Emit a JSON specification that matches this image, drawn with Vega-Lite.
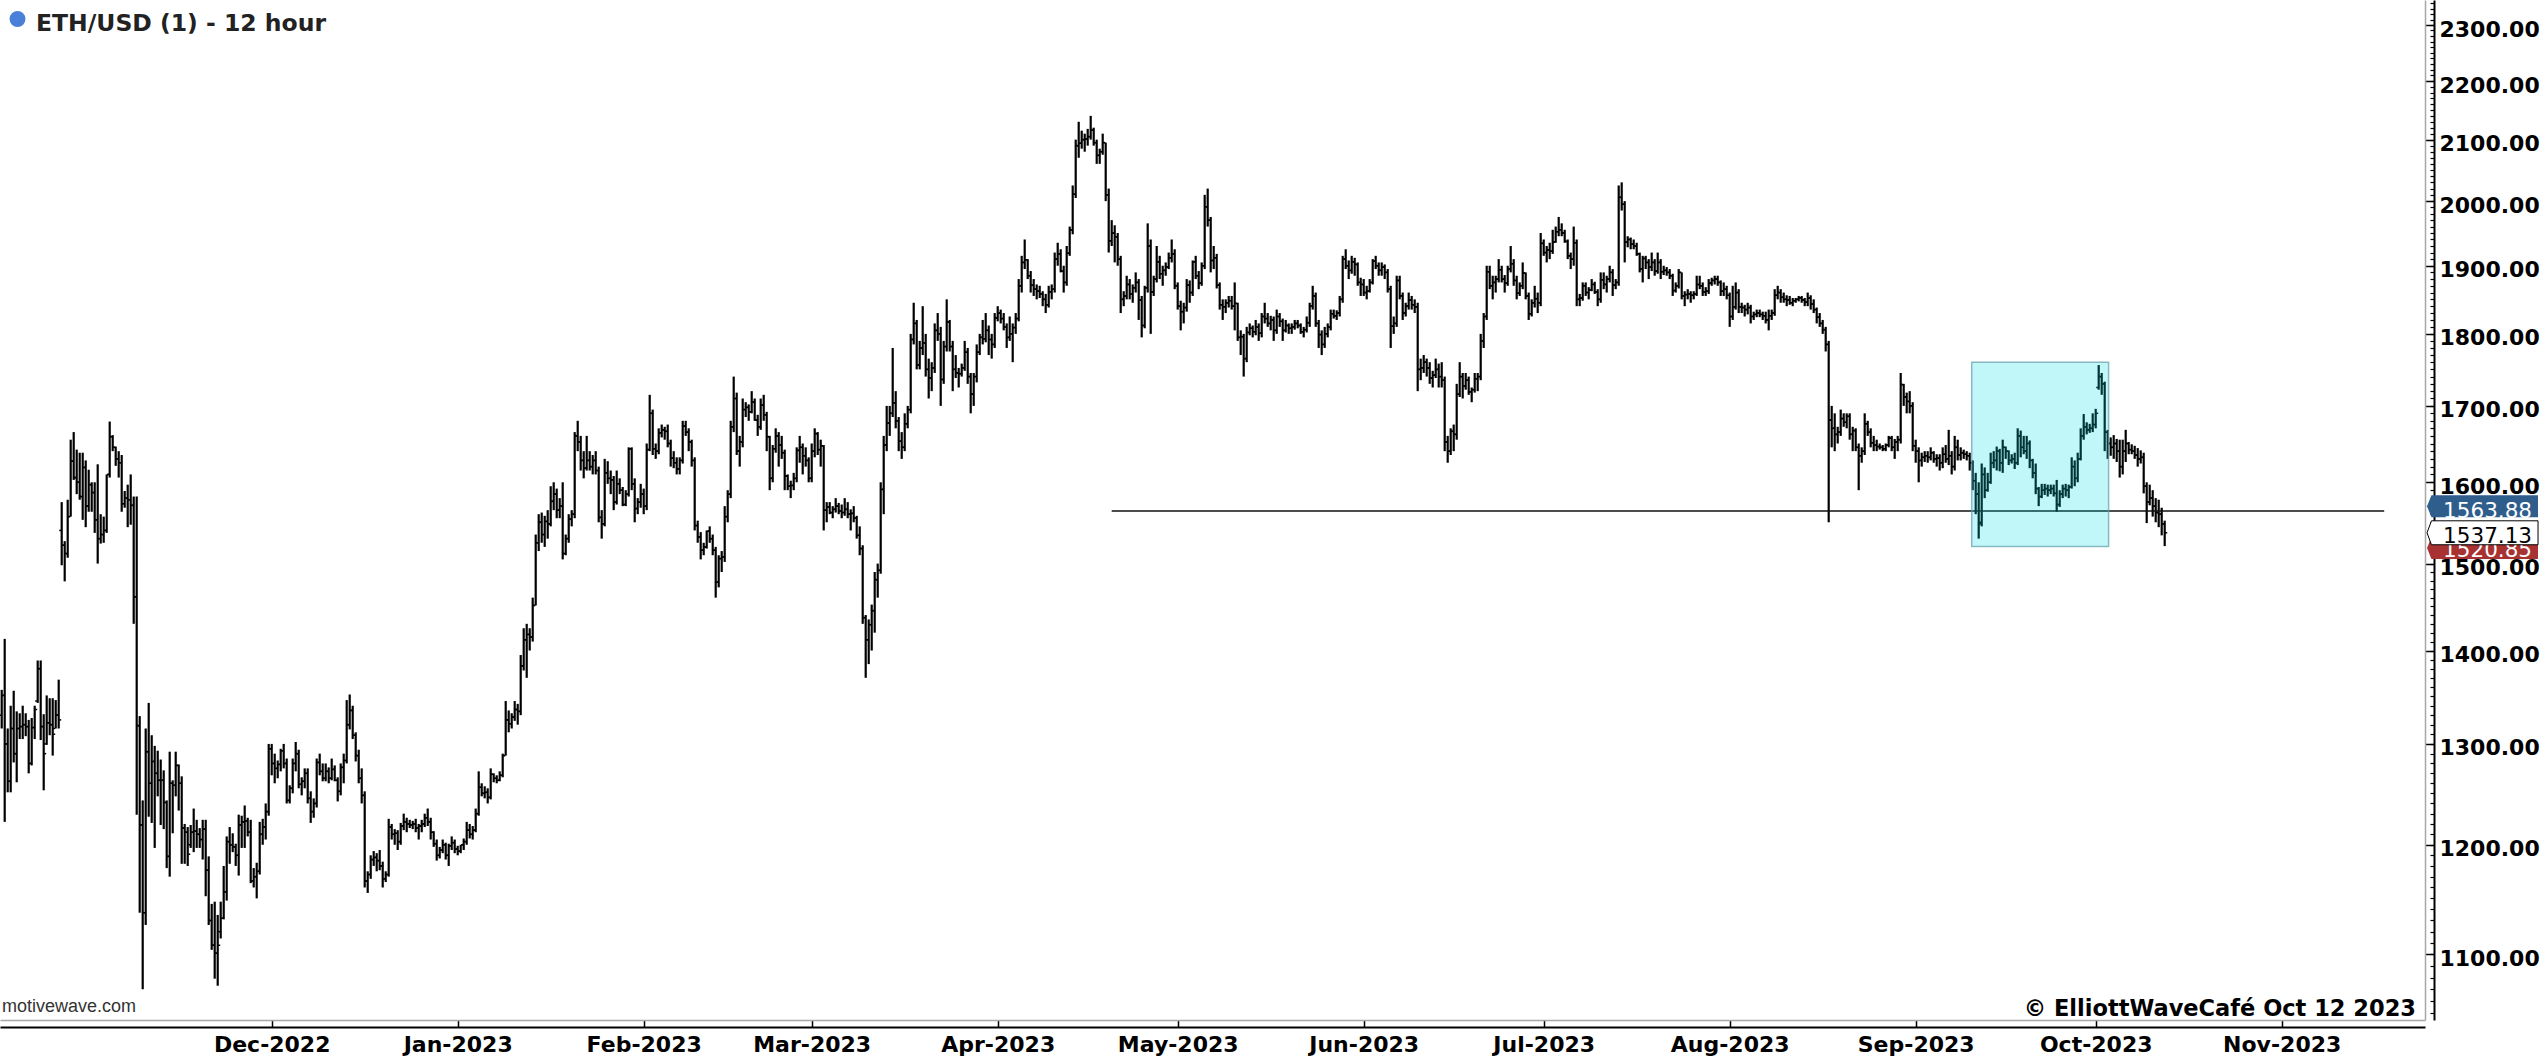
{
"$schema":"https://vega.github.io/schema/vega-lite/v6.json",
"width":2425,"height":1020,
"autosize":{"type":"none"},
"padding":{"left":0,"top":0,"right":123,"bottom":39},
"background":"#ffffff",
"config":{"view":{"stroke":null},"font":"DejaVu Sans"},
"datasets":{"bars":[
{"t":"2022-10-17T00:00","o":1330,"h":1357,"l":1316,"c":1351},
{"t":"2022-10-17T12:00","o":1351,"h":1413,"l":1222,"c":1300},
{"t":"2022-10-18T00:00","o":1300,"h":1316,"l":1251,"c":1262},
{"t":"2022-10-18T12:00","o":1262,"h":1340,"l":1251,"c":1316},
{"t":"2022-10-19T00:00","o":1316,"h":1356,"l":1281,"c":1290},
{"t":"2022-10-19T12:00","o":1290,"h":1334,"l":1261,"c":1316},
{"t":"2022-10-20T00:00","o":1316,"h":1332,"l":1305,"c":1318},
{"t":"2022-10-20T12:00","o":1318,"h":1340,"l":1305,"c":1320},
{"t":"2022-10-21T00:00","o":1320,"h":1332,"l":1308,"c":1318},
{"t":"2022-10-21T12:00","o":1318,"h":1325,"l":1270,"c":1280},
{"t":"2022-10-22T00:00","o":1280,"h":1327,"l":1278,"c":1317},
{"t":"2022-10-22T12:00","o":1317,"h":1340,"l":1305,"c":1336},
{"t":"2022-10-23T00:00","o":1345,"h":1389,"l":1343,"c":1380},
{"t":"2022-10-23T12:00","o":1380,"h":1389,"l":1304,"c":1318},
{"t":"2022-10-24T00:00","o":1318,"h":1331,"l":1253,"c":1290},
{"t":"2022-10-24T12:00","o":1300,"h":1351,"l":1299,"c":1322},
{"t":"2022-10-25T00:00","o":1322,"h":1348,"l":1309,"c":1320},
{"t":"2022-10-25T12:00","o":1320,"h":1348,"l":1288,"c":1310},
{"t":"2022-10-26T00:00","o":1316,"h":1346,"l":1316,"c":1330},
{"t":"2022-10-26T12:00","o":1330,"h":1368,"l":1316,"c":1325},
{"t":"2022-10-27T00:00","o":1540,"h":1575,"l":1498,"c":1522},
{"t":"2022-10-27T12:00","o":1522,"h":1527,"l":1479,"c":1512},
{"t":"2022-10-28T00:00","o":1512,"h":1578,"l":1507,"c":1557},
{"t":"2022-10-28T12:00","o":1557,"h":1655,"l":1557,"c":1627},
{"t":"2022-10-29T00:00","o":1627,"h":1665,"l":1603,"c":1606},
{"t":"2022-10-29T12:00","o":1606,"h":1642,"l":1585,"c":1600},
{"t":"2022-10-30T00:00","o":1600,"h":1638,"l":1578,"c":1582},
{"t":"2022-10-30T12:00","o":1582,"h":1638,"l":1553,"c":1619},
{"t":"2022-10-31T00:00","o":1619,"h":1628,"l":1544,"c":1570},
{"t":"2022-10-31T12:00","o":1570,"h":1616,"l":1563,"c":1597},
{"t":"2022-11-01T00:00","o":1597,"h":1600,"l":1563,"c":1587},
{"t":"2022-11-01T12:00","o":1587,"h":1600,"l":1537,"c":1553},
{"t":"2022-11-02T00:00","o":1553,"h":1623,"l":1500,"c":1530},
{"t":"2022-11-02T12:00","o":1530,"h":1560,"l":1524,"c":1535},
{"t":"2022-11-03T00:00","o":1535,"h":1557,"l":1525,"c":1540},
{"t":"2022-11-03T12:00","o":1540,"h":1610,"l":1537,"c":1610},
{"t":"2022-11-04T00:00","o":1610,"h":1679,"l":1606,"c":1659},
{"t":"2022-11-04T12:00","o":1659,"h":1661,"l":1640,"c":1645},
{"t":"2022-11-05T00:00","o":1645,"h":1646,"l":1621,"c":1630},
{"t":"2022-11-05T12:00","o":1630,"h":1640,"l":1606,"c":1625},
{"t":"2022-11-06T00:00","o":1625,"h":1635,"l":1563,"c":1573},
{"t":"2022-11-06T12:00","o":1573,"h":1589,"l":1568,"c":1580},
{"t":"2022-11-07T00:00","o":1580,"h":1597,"l":1544,"c":1578},
{"t":"2022-11-07T12:00","o":1578,"h":1610,"l":1547,"c":1571},
{"t":"2022-11-08T00:00","o":1571,"h":1582,"l":1430,"c":1461},
{"t":"2022-11-08T12:00","o":1461,"h":1582,"l":1229,"c":1319},
{"t":"2022-11-09T00:00","o":1319,"h":1329,"l":1137,"c":1219},
{"t":"2022-11-09T12:00","o":1219,"h":1243,"l":1070,"c":1137},
{"t":"2022-11-10T00:00","o":1137,"h":1316,"l":1126,"c":1292},
{"t":"2022-11-10T12:00","o":1292,"h":1343,"l":1227,"c":1260},
{"t":"2022-11-11T00:00","o":1260,"h":1309,"l":1221,"c":1282},
{"t":"2022-11-11T12:00","o":1282,"h":1298,"l":1197,"c":1270},
{"t":"2022-11-12T00:00","o":1270,"h":1293,"l":1247,"c":1263},
{"t":"2022-11-12T12:00","o":1263,"h":1284,"l":1219,"c":1263},
{"t":"2022-11-13T00:00","o":1263,"h":1273,"l":1215,"c":1241},
{"t":"2022-11-13T12:00","o":1241,"h":1243,"l":1178,"c":1189},
{"t":"2022-11-14T00:00","o":1189,"h":1292,"l":1170,"c":1260},
{"t":"2022-11-14T12:00","o":1260,"h":1263,"l":1211,"c":1258},
{"t":"2022-11-15T00:00","o":1258,"h":1292,"l":1247,"c":1278},
{"t":"2022-11-15T12:00","o":1278,"h":1279,"l":1233,"c":1260},
{"t":"2022-11-16T00:00","o":1260,"h":1267,"l":1182,"c":1216},
{"t":"2022-11-16T12:00","o":1216,"h":1220,"l":1182,"c":1212},
{"t":"2022-11-17T00:00","o":1212,"h":1217,"l":1180,"c":1191},
{"t":"2022-11-17T12:00","o":1200,"h":1219,"l":1197,"c":1212},
{"t":"2022-11-18T00:00","o":1212,"h":1235,"l":1193,"c":1213},
{"t":"2022-11-18T12:00","o":1213,"h":1224,"l":1197,"c":1210},
{"t":"2022-11-19T00:00","o":1210,"h":1216,"l":1197,"c":1205},
{"t":"2022-11-19T12:00","o":1205,"h":1224,"l":1186,"c":1215},
{"t":"2022-11-20T00:00","o":1215,"h":1224,"l":1152,"c":1176},
{"t":"2022-11-20T12:00","o":1176,"h":1189,"l":1126,"c":1130},
{"t":"2022-11-21T00:00","o":1130,"h":1145,"l":1104,"c":1108},
{"t":"2022-11-21T12:00","o":1108,"h":1147,"l":1079,"c":1101},
{"t":"2022-11-22T00:00","o":1101,"h":1135,"l":1073,"c":1108},
{"t":"2022-11-22T12:00","o":1120,"h":1147,"l":1114,"c":1132},
{"t":"2022-11-23T00:00","o":1132,"h":1180,"l":1131,"c":1156},
{"t":"2022-11-23T12:00","o":1156,"h":1208,"l":1148,"c":1203},
{"t":"2022-11-24T00:00","o":1203,"h":1217,"l":1182,"c":1200},
{"t":"2022-11-24T12:00","o":1200,"h":1211,"l":1193,"c":1198},
{"t":"2022-11-25T00:00","o":1198,"h":1201,"l":1180,"c":1190},
{"t":"2022-11-25T12:00","o":1190,"h":1229,"l":1171,"c":1219},
{"t":"2022-11-26T00:00","o":1219,"h":1228,"l":1197,"c":1222},
{"t":"2022-11-26T12:00","o":1222,"h":1238,"l":1197,"c":1223},
{"t":"2022-11-27T00:00","o":1223,"h":1226,"l":1208,"c":1212},
{"t":"2022-11-27T12:00","o":1212,"h":1224,"l":1164,"c":1166},
{"t":"2022-11-28T00:00","o":1166,"h":1178,"l":1160,"c":1170},
{"t":"2022-11-28T12:00","o":1170,"h":1183,"l":1150,"c":1175},
{"t":"2022-11-29T00:00","o":1175,"h":1222,"l":1172,"c":1210},
{"t":"2022-11-29T12:00","o":1210,"h":1225,"l":1200,"c":1217},
{"t":"2022-11-30T00:00","o":1217,"h":1240,"l":1205,"c":1232},
{"t":"2022-11-30T12:00","o":1232,"h":1300,"l":1228,"c":1295},
{"t":"2022-12-01T00:00","o":1295,"h":1300,"l":1268,"c":1280},
{"t":"2022-12-01T12:00","o":1280,"h":1290,"l":1260,"c":1275},
{"t":"2022-12-02T00:00","o":1275,"h":1283,"l":1265,"c":1279},
{"t":"2022-12-02T12:00","o":1279,"h":1295,"l":1272,"c":1293},
{"t":"2022-12-03T00:00","o":1293,"h":1300,"l":1275,"c":1280},
{"t":"2022-12-03T12:00","o":1280,"h":1285,"l":1240,"c":1243},
{"t":"2022-12-04T00:00","o":1243,"h":1258,"l":1240,"c":1255},
{"t":"2022-12-04T12:00","o":1255,"h":1285,"l":1250,"c":1280},
{"t":"2022-12-05T00:00","o":1280,"h":1302,"l":1272,"c":1290},
{"t":"2022-12-05T12:00","o":1290,"h":1294,"l":1255,"c":1259},
{"t":"2022-12-06T00:00","o":1259,"h":1266,"l":1248,"c":1262},
{"t":"2022-12-06T12:00","o":1262,"h":1275,"l":1255,"c":1270},
{"t":"2022-12-07T00:00","o":1270,"h":1275,"l":1240,"c":1245},
{"t":"2022-12-07T12:00","o":1245,"h":1252,"l":1221,"c":1232},
{"t":"2022-12-08T00:00","o":1232,"h":1245,"l":1226,"c":1240},
{"t":"2022-12-08T12:00","o":1240,"h":1285,"l":1236,"c":1281},
{"t":"2022-12-09T00:00","o":1281,"h":1290,"l":1268,"c":1272},
{"t":"2022-12-09T12:00","o":1272,"h":1280,"l":1262,"c":1265},
{"t":"2022-12-10T00:00","o":1265,"h":1280,"l":1262,"c":1272},
{"t":"2022-12-10T12:00","o":1272,"h":1276,"l":1260,"c":1265},
{"t":"2022-12-11T00:00","o":1265,"h":1285,"l":1263,"c":1274},
{"t":"2022-12-11T12:00","o":1274,"h":1278,"l":1262,"c":1263},
{"t":"2022-12-12T00:00","o":1263,"h":1266,"l":1242,"c":1252},
{"t":"2022-12-12T12:00","o":1252,"h":1280,"l":1248,"c":1276},
{"t":"2022-12-13T00:00","o":1276,"h":1290,"l":1260,"c":1283},
{"t":"2022-12-13T12:00","o":1283,"h":1346,"l":1280,"c":1320},
{"t":"2022-12-14T00:00","o":1320,"h":1352,"l":1315,"c":1335},
{"t":"2022-12-14T12:00","o":1335,"h":1340,"l":1305,"c":1309},
{"t":"2022-12-15T00:00","o":1309,"h":1312,"l":1282,"c":1288},
{"t":"2022-12-15T12:00","o":1288,"h":1294,"l":1260,"c":1265},
{"t":"2022-12-16T00:00","o":1265,"h":1275,"l":1240,"c":1248},
{"t":"2022-12-16T12:00","o":1248,"h":1252,"l":1160,"c":1166},
{"t":"2022-12-17T00:00","o":1166,"h":1175,"l":1155,"c":1172},
{"t":"2022-12-17T12:00","o":1172,"h":1190,"l":1168,"c":1186},
{"t":"2022-12-18T00:00","o":1186,"h":1194,"l":1180,"c":1188},
{"t":"2022-12-18T12:00","o":1188,"h":1192,"l":1175,"c":1185},
{"t":"2022-12-19T00:00","o":1185,"h":1195,"l":1176,"c":1180},
{"t":"2022-12-19T12:00","o":1180,"h":1184,"l":1160,"c":1168},
{"t":"2022-12-20T00:00","o":1168,"h":1175,"l":1165,"c":1172},
{"t":"2022-12-20T12:00","o":1172,"h":1225,"l":1170,"c":1217},
{"t":"2022-12-21T00:00","o":1217,"h":1220,"l":1205,"c":1210},
{"t":"2022-12-21T12:00","o":1210,"h":1215,"l":1200,"c":1211},
{"t":"2022-12-22T00:00","o":1211,"h":1214,"l":1195,"c":1203},
{"t":"2022-12-22T12:00","o":1203,"h":1221,"l":1200,"c":1218},
{"t":"2022-12-23T00:00","o":1218,"h":1230,"l":1214,"c":1222},
{"t":"2022-12-23T12:00","o":1222,"h":1226,"l":1212,"c":1220},
{"t":"2022-12-24T00:00","o":1220,"h":1224,"l":1216,"c":1219},
{"t":"2022-12-24T12:00","o":1219,"h":1223,"l":1215,"c":1220},
{"t":"2022-12-25T00:00","o":1220,"h":1225,"l":1212,"c":1216},
{"t":"2022-12-25T12:00","o":1216,"h":1220,"l":1205,"c":1218},
{"t":"2022-12-26T00:00","o":1218,"h":1224,"l":1212,"c":1220},
{"t":"2022-12-26T12:00","o":1220,"h":1230,"l":1217,"c":1226},
{"t":"2022-12-27T00:00","o":1226,"h":1235,"l":1218,"c":1222},
{"t":"2022-12-27T12:00","o":1222,"h":1226,"l":1205,"c":1212},
{"t":"2022-12-28T00:00","o":1212,"h":1213,"l":1198,"c":1201},
{"t":"2022-12-28T12:00","o":1201,"h":1205,"l":1185,"c":1190},
{"t":"2022-12-29T00:00","o":1190,"h":1198,"l":1187,"c":1195},
{"t":"2022-12-29T12:00","o":1195,"h":1205,"l":1192,"c":1200},
{"t":"2022-12-30T00:00","o":1200,"h":1202,"l":1186,"c":1190},
{"t":"2022-12-30T12:00","o":1190,"h":1201,"l":1180,"c":1199},
{"t":"2022-12-31T00:00","o":1199,"h":1208,"l":1195,"c":1202},
{"t":"2022-12-31T12:00","o":1202,"h":1205,"l":1192,"c":1196},
{"t":"2023-01-01T00:00","o":1196,"h":1199,"l":1190,"c":1194},
{"t":"2023-01-01T12:00","o":1194,"h":1200,"l":1192,"c":1200},
{"t":"2023-01-02T00:00","o":1200,"h":1206,"l":1195,"c":1203},
{"t":"2023-01-02T12:00","o":1203,"h":1222,"l":1200,"c":1214},
{"t":"2023-01-03T00:00","o":1214,"h":1220,"l":1206,"c":1210},
{"t":"2023-01-03T12:00","o":1210,"h":1218,"l":1205,"c":1214},
{"t":"2023-01-04T00:00","o":1214,"h":1235,"l":1212,"c":1230},
{"t":"2023-01-04T12:00","o":1230,"h":1272,"l":1228,"c":1256},
{"t":"2023-01-05T00:00","o":1256,"h":1260,"l":1247,"c":1250},
{"t":"2023-01-05T12:00","o":1250,"h":1257,"l":1245,"c":1251},
{"t":"2023-01-06T00:00","o":1251,"h":1255,"l":1240,"c":1246},
{"t":"2023-01-06T12:00","o":1246,"h":1275,"l":1244,"c":1269},
{"t":"2023-01-07T00:00","o":1269,"h":1270,"l":1261,"c":1265},
{"t":"2023-01-07T12:00","o":1265,"h":1268,"l":1260,"c":1263},
{"t":"2023-01-08T00:00","o":1263,"h":1272,"l":1262,"c":1268},
{"t":"2023-01-08T12:00","o":1268,"h":1290,"l":1266,"c":1288},
{"t":"2023-01-09T00:00","o":1288,"h":1345,"l":1288,"c":1325},
{"t":"2023-01-09T12:00","o":1325,"h":1335,"l":1312,"c":1321},
{"t":"2023-01-10T00:00","o":1321,"h":1332,"l":1316,"c":1328},
{"t":"2023-01-10T12:00","o":1328,"h":1345,"l":1324,"c":1336},
{"t":"2023-01-11T00:00","o":1336,"h":1342,"l":1320,"c":1334},
{"t":"2023-01-11T12:00","o":1334,"h":1395,"l":1330,"c":1383},
{"t":"2023-01-12T00:00","o":1383,"h":1425,"l":1378,"c":1412},
{"t":"2023-01-12T12:00","o":1412,"h":1430,"l":1370,"c":1418},
{"t":"2023-01-13T00:00","o":1418,"h":1425,"l":1400,"c":1415},
{"t":"2023-01-13T12:00","o":1415,"h":1460,"l":1410,"c":1451},
{"t":"2023-01-14T00:00","o":1451,"h":1535,"l":1451,"c":1525},
{"t":"2023-01-14T12:00","o":1525,"h":1560,"l":1515,"c":1550},
{"t":"2023-01-15T00:00","o":1550,"h":1562,"l":1525,"c":1535},
{"t":"2023-01-15T12:00","o":1535,"h":1558,"l":1520,"c":1551},
{"t":"2023-01-16T00:00","o":1551,"h":1565,"l":1530,"c":1548},
{"t":"2023-01-16T12:00","o":1548,"h":1595,"l":1545,"c":1576},
{"t":"2023-01-17T00:00","o":1576,"h":1600,"l":1565,"c":1585},
{"t":"2023-01-17T12:00","o":1585,"h":1592,"l":1555,"c":1565},
{"t":"2023-01-18T00:00","o":1565,"h":1580,"l":1555,"c":1570},
{"t":"2023-01-18T12:00","o":1570,"h":1600,"l":1505,"c":1512},
{"t":"2023-01-19T00:00","o":1512,"h":1535,"l":1510,"c":1530},
{"t":"2023-01-19T12:00","o":1530,"h":1560,"l":1525,"c":1554},
{"t":"2023-01-20T00:00","o":1554,"h":1565,"l":1545,"c":1560},
{"t":"2023-01-20T12:00","o":1560,"h":1665,"l":1555,"c":1660},
{"t":"2023-01-21T00:00","o":1660,"h":1680,"l":1640,"c":1652},
{"t":"2023-01-21T12:00","o":1652,"h":1660,"l":1615,"c":1628},
{"t":"2023-01-22T00:00","o":1628,"h":1640,"l":1605,"c":1618},
{"t":"2023-01-22T12:00","o":1618,"h":1660,"l":1615,"c":1628},
{"t":"2023-01-23T00:00","o":1628,"h":1640,"l":1615,"c":1620},
{"t":"2023-01-23T12:00","o":1620,"h":1635,"l":1610,"c":1628},
{"t":"2023-01-24T00:00","o":1628,"h":1640,"l":1610,"c":1615},
{"t":"2023-01-24T12:00","o":1615,"h":1620,"l":1550,"c":1556},
{"t":"2023-01-25T00:00","o":1556,"h":1565,"l":1530,"c":1548},
{"t":"2023-01-25T12:00","o":1548,"h":1630,"l":1545,"c":1612},
{"t":"2023-01-26T00:00","o":1612,"h":1627,"l":1598,"c":1605},
{"t":"2023-01-26T12:00","o":1605,"h":1615,"l":1585,"c":1603},
{"t":"2023-01-27T00:00","o":1603,"h":1608,"l":1565,"c":1575},
{"t":"2023-01-27T12:00","o":1575,"h":1615,"l":1572,"c":1598},
{"t":"2023-01-28T00:00","o":1598,"h":1605,"l":1585,"c":1590},
{"t":"2023-01-28T12:00","o":1590,"h":1594,"l":1570,"c":1572},
{"t":"2023-01-29T00:00","o":1572,"h":1590,"l":1570,"c":1585},
{"t":"2023-01-29T12:00","o":1585,"h":1645,"l":1582,"c":1643},
{"t":"2023-01-30T00:00","o":1643,"h":1645,"l":1590,"c":1598},
{"t":"2023-01-30T12:00","o":1598,"h":1605,"l":1550,"c":1567},
{"t":"2023-01-31T00:00","o":1567,"h":1580,"l":1560,"c":1575},
{"t":"2023-01-31T12:00","o":1575,"h":1598,"l":1568,"c":1585},
{"t":"2023-02-01T00:00","o":1585,"h":1592,"l":1560,"c":1570},
{"t":"2023-02-01T12:00","o":1570,"h":1650,"l":1565,"c":1642},
{"t":"2023-02-02T00:00","o":1642,"h":1715,"l":1640,"c":1690},
{"t":"2023-02-02T12:00","o":1690,"h":1695,"l":1635,"c":1643},
{"t":"2023-02-03T00:00","o":1643,"h":1650,"l":1630,"c":1640},
{"t":"2023-02-03T12:00","o":1640,"h":1670,"l":1636,"c":1664},
{"t":"2023-02-04T00:00","o":1664,"h":1675,"l":1658,"c":1668},
{"t":"2023-02-04T12:00","o":1668,"h":1672,"l":1655,"c":1666},
{"t":"2023-02-05T00:00","o":1666,"h":1675,"l":1645,"c":1650},
{"t":"2023-02-05T12:00","o":1650,"h":1655,"l":1620,"c":1631},
{"t":"2023-02-06T00:00","o":1631,"h":1640,"l":1618,"c":1625},
{"t":"2023-02-06T12:00","o":1625,"h":1632,"l":1610,"c":1617},
{"t":"2023-02-07T00:00","o":1617,"h":1632,"l":1610,"c":1628},
{"t":"2023-02-07T12:00","o":1628,"h":1680,"l":1624,"c":1673},
{"t":"2023-02-08T00:00","o":1673,"h":1680,"l":1660,"c":1665},
{"t":"2023-02-08T12:00","o":1665,"h":1670,"l":1640,"c":1652},
{"t":"2023-02-09T00:00","o":1652,"h":1655,"l":1620,"c":1628},
{"t":"2023-02-09T12:00","o":1628,"h":1632,"l":1540,"c":1546},
{"t":"2023-02-10T00:00","o":1546,"h":1552,"l":1525,"c":1532},
{"t":"2023-02-10T12:00","o":1532,"h":1538,"l":1505,"c":1516},
{"t":"2023-02-11T00:00","o":1516,"h":1525,"l":1510,"c":1520},
{"t":"2023-02-11T12:00","o":1520,"h":1540,"l":1518,"c":1539},
{"t":"2023-02-12T00:00","o":1539,"h":1545,"l":1525,"c":1530},
{"t":"2023-02-12T12:00","o":1530,"h":1535,"l":1510,"c":1516},
{"t":"2023-02-13T00:00","o":1516,"h":1520,"l":1460,"c":1478},
{"t":"2023-02-13T12:00","o":1478,"h":1510,"l":1472,"c":1506},
{"t":"2023-02-14T00:00","o":1506,"h":1515,"l":1490,"c":1508},
{"t":"2023-02-14T12:00","o":1508,"h":1570,"l":1502,"c":1557},
{"t":"2023-02-15T00:00","o":1557,"h":1590,"l":1550,"c":1585},
{"t":"2023-02-15T12:00","o":1585,"h":1680,"l":1580,"c":1672},
{"t":"2023-02-16T00:00","o":1672,"h":1740,"l":1665,"c":1710},
{"t":"2023-02-16T12:00","o":1710,"h":1718,"l":1635,"c":1640},
{"t":"2023-02-17T00:00","o":1640,"h":1660,"l":1620,"c":1652},
{"t":"2023-02-17T12:00","o":1652,"h":1710,"l":1645,"c":1695},
{"t":"2023-02-18T00:00","o":1695,"h":1705,"l":1685,"c":1698},
{"t":"2023-02-18T12:00","o":1698,"h":1702,"l":1680,"c":1692},
{"t":"2023-02-19T00:00","o":1692,"h":1720,"l":1690,"c":1705},
{"t":"2023-02-19T12:00","o":1705,"h":1710,"l":1680,"c":1681},
{"t":"2023-02-20T00:00","o":1681,"h":1688,"l":1660,"c":1672},
{"t":"2023-02-20T12:00","o":1672,"h":1710,"l":1668,"c":1701},
{"t":"2023-02-21T00:00","o":1701,"h":1715,"l":1680,"c":1688},
{"t":"2023-02-21T12:00","o":1688,"h":1692,"l":1640,"c":1659},
{"t":"2023-02-22T00:00","o":1659,"h":1660,"l":1590,"c":1605},
{"t":"2023-02-22T12:00","o":1605,"h":1648,"l":1600,"c":1643},
{"t":"2023-02-23T00:00","o":1643,"h":1670,"l":1638,"c":1660},
{"t":"2023-02-23T12:00","o":1660,"h":1665,"l":1620,"c":1648},
{"t":"2023-02-24T00:00","o":1648,"h":1660,"l":1630,"c":1638},
{"t":"2023-02-24T12:00","o":1638,"h":1642,"l":1590,"c":1608},
{"t":"2023-02-25T00:00","o":1608,"h":1610,"l":1590,"c":1595},
{"t":"2023-02-25T12:00","o":1595,"h":1602,"l":1580,"c":1596},
{"t":"2023-02-26T00:00","o":1596,"h":1612,"l":1590,"c":1605},
{"t":"2023-02-26T12:00","o":1605,"h":1645,"l":1600,"c":1641},
{"t":"2023-02-27T00:00","o":1641,"h":1660,"l":1625,"c":1645},
{"t":"2023-02-27T12:00","o":1645,"h":1650,"l":1610,"c":1634},
{"t":"2023-02-28T00:00","o":1634,"h":1645,"l":1620,"c":1628},
{"t":"2023-02-28T12:00","o":1628,"h":1632,"l":1600,"c":1605},
{"t":"2023-03-01T00:00","o":1605,"h":1650,"l":1600,"c":1640},
{"t":"2023-03-01T12:00","o":1640,"h":1670,"l":1632,"c":1663},
{"t":"2023-03-02T00:00","o":1663,"h":1665,"l":1635,"c":1642},
{"t":"2023-03-02T12:00","o":1642,"h":1655,"l":1620,"c":1647},
{"t":"2023-03-03T00:00","o":1647,"h":1648,"l":1540,"c":1565},
{"t":"2023-03-03T12:00","o":1565,"h":1575,"l":1550,"c":1569},
{"t":"2023-03-04T00:00","o":1569,"h":1575,"l":1560,"c":1562},
{"t":"2023-03-04T12:00","o":1562,"h":1570,"l":1555,"c":1566},
{"t":"2023-03-05T00:00","o":1566,"h":1580,"l":1562,"c":1570},
{"t":"2023-03-05T12:00","o":1570,"h":1574,"l":1560,"c":1564},
{"t":"2023-03-06T00:00","o":1564,"h":1572,"l":1555,"c":1562},
{"t":"2023-03-06T12:00","o":1562,"h":1580,"l":1558,"c":1566},
{"t":"2023-03-07T00:00","o":1566,"h":1575,"l":1555,"c":1560},
{"t":"2023-03-07T12:00","o":1560,"h":1566,"l":1540,"c":1561},
{"t":"2023-03-08T00:00","o":1561,"h":1570,"l":1550,"c":1555},
{"t":"2023-03-08T12:00","o":1555,"h":1558,"l":1530,"c":1534},
{"t":"2023-03-09T00:00","o":1534,"h":1545,"l":1510,"c":1518},
{"t":"2023-03-09T12:00","o":1518,"h":1522,"l":1430,"c":1437},
{"t":"2023-03-10T00:00","o":1437,"h":1440,"l":1370,"c":1412},
{"t":"2023-03-10T12:00","o":1412,"h":1435,"l":1385,"c":1429},
{"t":"2023-03-11T00:00","o":1429,"h":1452,"l":1400,"c":1445},
{"t":"2023-03-11T12:00","o":1445,"h":1490,"l":1420,"c":1481},
{"t":"2023-03-12T00:00","o":1481,"h":1500,"l":1460,"c":1492},
{"t":"2023-03-12T12:00","o":1492,"h":1600,"l":1488,"c":1591},
{"t":"2023-03-13T00:00","o":1591,"h":1660,"l":1560,"c":1648},
{"t":"2023-03-13T12:00","o":1648,"h":1700,"l":1640,"c":1677},
{"t":"2023-03-14T00:00","o":1677,"h":1700,"l":1660,"c":1690},
{"t":"2023-03-14T12:00","o":1690,"h":1780,"l":1685,"c":1704},
{"t":"2023-03-15T00:00","o":1704,"h":1720,"l":1670,"c":1680},
{"t":"2023-03-15T12:00","o":1680,"h":1685,"l":1640,"c":1653},
{"t":"2023-03-16T00:00","o":1653,"h":1665,"l":1630,"c":1645},
{"t":"2023-03-16T12:00","o":1645,"h":1690,"l":1640,"c":1676},
{"t":"2023-03-17T00:00","o":1676,"h":1700,"l":1670,"c":1695},
{"t":"2023-03-17T12:00","o":1695,"h":1800,"l":1690,"c":1792},
{"t":"2023-03-18T00:00","o":1792,"h":1845,"l":1785,"c":1815},
{"t":"2023-03-18T12:00","o":1815,"h":1820,"l":1750,"c":1756},
{"t":"2023-03-19T00:00","o":1756,"h":1790,"l":1750,"c":1780},
{"t":"2023-03-19T12:00","o":1780,"h":1840,"l":1770,"c":1787},
{"t":"2023-03-20T00:00","o":1787,"h":1800,"l":1740,"c":1750},
{"t":"2023-03-20T12:00","o":1750,"h":1765,"l":1710,"c":1738},
{"t":"2023-03-21T00:00","o":1738,"h":1760,"l":1720,"c":1752},
{"t":"2023-03-21T12:00","o":1752,"h":1815,"l":1745,"c":1805},
{"t":"2023-03-22T00:00","o":1805,"h":1830,"l":1790,"c":1800},
{"t":"2023-03-22T12:00","o":1800,"h":1810,"l":1700,"c":1736},
{"t":"2023-03-23T00:00","o":1736,"h":1790,"l":1730,"c":1782},
{"t":"2023-03-23T12:00","o":1782,"h":1850,"l":1775,"c":1817},
{"t":"2023-03-24T00:00","o":1817,"h":1820,"l":1775,"c":1782},
{"t":"2023-03-24T12:00","o":1782,"h":1790,"l":1720,"c":1750},
{"t":"2023-03-25T00:00","o":1750,"h":1770,"l":1738,"c":1745},
{"t":"2023-03-25T12:00","o":1745,"h":1752,"l":1725,"c":1744},
{"t":"2023-03-26T00:00","o":1744,"h":1758,"l":1740,"c":1752},
{"t":"2023-03-26T12:00","o":1752,"h":1790,"l":1748,"c":1774},
{"t":"2023-03-27T00:00","o":1774,"h":1780,"l":1730,"c":1740},
{"t":"2023-03-27T12:00","o":1740,"h":1745,"l":1690,"c":1716},
{"t":"2023-03-28T00:00","o":1716,"h":1745,"l":1700,"c":1740},
{"t":"2023-03-28T12:00","o":1740,"h":1785,"l":1732,"c":1774},
{"t":"2023-03-29T00:00","o":1774,"h":1800,"l":1770,"c":1795},
{"t":"2023-03-29T12:00","o":1795,"h":1820,"l":1785,"c":1793},
{"t":"2023-03-30T00:00","o":1793,"h":1830,"l":1788,"c":1805},
{"t":"2023-03-30T12:00","o":1805,"h":1812,"l":1770,"c":1792},
{"t":"2023-03-31T00:00","o":1792,"h":1800,"l":1765,"c":1785},
{"t":"2023-03-31T12:00","o":1785,"h":1830,"l":1780,"c":1823},
{"t":"2023-04-01T00:00","o":1823,"h":1840,"l":1818,"c":1830},
{"t":"2023-04-01T12:00","o":1830,"h":1835,"l":1815,"c":1822},
{"t":"2023-04-02T00:00","o":1822,"h":1830,"l":1805,"c":1810},
{"t":"2023-04-02T12:00","o":1810,"h":1815,"l":1780,"c":1795},
{"t":"2023-04-03T00:00","o":1795,"h":1825,"l":1790,"c":1800},
{"t":"2023-04-03T12:00","o":1800,"h":1815,"l":1760,"c":1809},
{"t":"2023-04-04T00:00","o":1809,"h":1830,"l":1800,"c":1822},
{"t":"2023-04-04T12:00","o":1822,"h":1880,"l":1818,"c":1870},
{"t":"2023-04-05T00:00","o":1870,"h":1915,"l":1860,"c":1905},
{"t":"2023-04-05T12:00","o":1905,"h":1940,"l":1895,"c":1909},
{"t":"2023-04-06T00:00","o":1909,"h":1910,"l":1880,"c":1885},
{"t":"2023-04-06T12:00","o":1885,"h":1892,"l":1860,"c":1871},
{"t":"2023-04-07T00:00","o":1871,"h":1880,"l":1855,"c":1865},
{"t":"2023-04-07T12:00","o":1865,"h":1872,"l":1850,"c":1862},
{"t":"2023-04-08T00:00","o":1862,"h":1870,"l":1852,"c":1858},
{"t":"2023-04-08T12:00","o":1858,"h":1862,"l":1840,"c":1850},
{"t":"2023-04-09T00:00","o":1850,"h":1858,"l":1830,"c":1842},
{"t":"2023-04-09T12:00","o":1842,"h":1870,"l":1838,"c":1861},
{"t":"2023-04-10T00:00","o":1861,"h":1872,"l":1850,"c":1865},
{"t":"2023-04-10T12:00","o":1865,"h":1920,"l":1860,"c":1910},
{"t":"2023-04-11T00:00","o":1910,"h":1935,"l":1900,"c":1918},
{"t":"2023-04-11T12:00","o":1918,"h":1925,"l":1890,"c":1892},
{"t":"2023-04-12T00:00","o":1892,"h":1900,"l":1860,"c":1875},
{"t":"2023-04-12T12:00","o":1875,"h":1930,"l":1870,"c":1919},
{"t":"2023-04-13T00:00","o":1919,"h":1960,"l":1915,"c":1955},
{"t":"2023-04-13T12:00","o":1955,"h":2025,"l":1948,"c":2011},
{"t":"2023-04-14T00:00","o":2011,"h":2100,"l":2005,"c":2090},
{"t":"2023-04-14T12:00","o":2090,"h":2130,"l":2070,"c":2094},
{"t":"2023-04-15T00:00","o":2094,"h":2115,"l":2085,"c":2100},
{"t":"2023-04-15T12:00","o":2100,"h":2110,"l":2080,"c":2101},
{"t":"2023-04-16T00:00","o":2101,"h":2118,"l":2090,"c":2105},
{"t":"2023-04-16T12:00","o":2105,"h":2140,"l":2100,"c":2116},
{"t":"2023-04-17T00:00","o":2116,"h":2120,"l":2090,"c":2095},
{"t":"2023-04-17T12:00","o":2095,"h":2100,"l":2060,"c":2074},
{"t":"2023-04-18T00:00","o":2074,"h":2085,"l":2060,"c":2080},
{"t":"2023-04-18T12:00","o":2080,"h":2110,"l":2075,"c":2095},
{"t":"2023-04-19T00:00","o":2095,"h":2095,"l":2000,"c":2010},
{"t":"2023-04-19T12:00","o":2010,"h":2020,"l":1920,"c":1938},
{"t":"2023-04-20T00:00","o":1938,"h":1970,"l":1930,"c":1950},
{"t":"2023-04-20T12:00","o":1950,"h":1962,"l":1905,"c":1944},
{"t":"2023-04-21T00:00","o":1944,"h":1950,"l":1900,"c":1910},
{"t":"2023-04-21T12:00","o":1910,"h":1915,"l":1830,"c":1850},
{"t":"2023-04-22T00:00","o":1850,"h":1862,"l":1840,"c":1855},
{"t":"2023-04-22T12:00","o":1855,"h":1885,"l":1850,"c":1872},
{"t":"2023-04-23T00:00","o":1872,"h":1880,"l":1850,"c":1858},
{"t":"2023-04-23T12:00","o":1858,"h":1872,"l":1845,"c":1867},
{"t":"2023-04-24T00:00","o":1867,"h":1890,"l":1860,"c":1875},
{"t":"2023-04-24T12:00","o":1875,"h":1880,"l":1820,"c":1849},
{"t":"2023-04-25T00:00","o":1849,"h":1855,"l":1795,"c":1812},
{"t":"2023-04-25T12:00","o":1812,"h":1870,"l":1808,"c":1867},
{"t":"2023-04-26T00:00","o":1867,"h":1965,"l":1860,"c":1930},
{"t":"2023-04-26T12:00","o":1930,"h":1940,"l":1800,"c":1861},
{"t":"2023-04-27T00:00","o":1861,"h":1885,"l":1855,"c":1880},
{"t":"2023-04-27T12:00","o":1880,"h":1930,"l":1875,"c":1906},
{"t":"2023-04-28T00:00","o":1906,"h":1915,"l":1880,"c":1888},
{"t":"2023-04-28T12:00","o":1888,"h":1900,"l":1870,"c":1893},
{"t":"2023-04-29T00:00","o":1893,"h":1905,"l":1885,"c":1898},
{"t":"2023-04-29T12:00","o":1898,"h":1920,"l":1895,"c":1912},
{"t":"2023-04-30T00:00","o":1912,"h":1940,"l":1905,"c":1918},
{"t":"2023-04-30T12:00","o":1918,"h":1925,"l":1865,"c":1870},
{"t":"2023-05-01T00:00","o":1870,"h":1875,"l":1835,"c":1840},
{"t":"2023-05-01T12:00","o":1840,"h":1848,"l":1805,"c":1832},
{"t":"2023-05-02T00:00","o":1832,"h":1845,"l":1815,"c":1838},
{"t":"2023-05-02T12:00","o":1838,"h":1880,"l":1832,"c":1871},
{"t":"2023-05-03T00:00","o":1871,"h":1878,"l":1845,"c":1860},
{"t":"2023-05-03T12:00","o":1860,"h":1908,"l":1855,"c":1906},
{"t":"2023-05-04T00:00","o":1906,"h":1915,"l":1880,"c":1885},
{"t":"2023-05-04T12:00","o":1885,"h":1892,"l":1865,"c":1874},
{"t":"2023-05-05T00:00","o":1874,"h":1905,"l":1870,"c":1900},
{"t":"2023-05-05T12:00","o":1900,"h":2010,"l":1895,"c":1991},
{"t":"2023-05-06T00:00","o":1991,"h":2020,"l":1960,"c":1970},
{"t":"2023-05-06T12:00","o":1970,"h":1975,"l":1890,"c":1908},
{"t":"2023-05-07T00:00","o":1908,"h":1930,"l":1895,"c":1912},
{"t":"2023-05-07T12:00","o":1912,"h":1918,"l":1866,"c":1871},
{"t":"2023-05-08T00:00","o":1871,"h":1875,"l":1835,"c":1842},
{"t":"2023-05-08T12:00","o":1842,"h":1850,"l":1820,"c":1839},
{"t":"2023-05-09T00:00","o":1839,"h":1850,"l":1830,"c":1845},
{"t":"2023-05-09T12:00","o":1845,"h":1855,"l":1838,"c":1848},
{"t":"2023-05-10T00:00","o":1848,"h":1855,"l":1835,"c":1840},
{"t":"2023-05-10T12:00","o":1840,"h":1875,"l":1805,"c":1844},
{"t":"2023-05-11T00:00","o":1844,"h":1845,"l":1790,"c":1795},
{"t":"2023-05-11T12:00","o":1795,"h":1805,"l":1770,"c":1796},
{"t":"2023-05-12T00:00","o":1796,"h":1800,"l":1740,"c":1765},
{"t":"2023-05-12T12:00","o":1765,"h":1810,"l":1760,"c":1802},
{"t":"2023-05-13T00:00","o":1802,"h":1815,"l":1798,"c":1808},
{"t":"2023-05-13T12:00","o":1808,"h":1812,"l":1795,"c":1803},
{"t":"2023-05-14T00:00","o":1803,"h":1820,"l":1798,"c":1810},
{"t":"2023-05-14T12:00","o":1810,"h":1815,"l":1790,"c":1801},
{"t":"2023-05-15T00:00","o":1801,"h":1830,"l":1795,"c":1825},
{"t":"2023-05-15T12:00","o":1825,"h":1845,"l":1815,"c":1822},
{"t":"2023-05-16T00:00","o":1822,"h":1830,"l":1810,"c":1815},
{"t":"2023-05-16T12:00","o":1815,"h":1826,"l":1805,"c":1820},
{"t":"2023-05-17T00:00","o":1820,"h":1825,"l":1790,"c":1805},
{"t":"2023-05-17T12:00","o":1805,"h":1835,"l":1800,"c":1825},
{"t":"2023-05-18T00:00","o":1825,"h":1830,"l":1810,"c":1818},
{"t":"2023-05-18T12:00","o":1818,"h":1822,"l":1790,"c":1805},
{"t":"2023-05-19T00:00","o":1805,"h":1820,"l":1802,"c":1812},
{"t":"2023-05-19T12:00","o":1812,"h":1815,"l":1800,"c":1808},
{"t":"2023-05-20T00:00","o":1808,"h":1815,"l":1800,"c":1810},
{"t":"2023-05-20T12:00","o":1810,"h":1820,"l":1806,"c":1815},
{"t":"2023-05-21T00:00","o":1815,"h":1820,"l":1808,"c":1812},
{"t":"2023-05-21T12:00","o":1812,"h":1815,"l":1800,"c":1803},
{"t":"2023-05-22T00:00","o":1803,"h":1810,"l":1795,"c":1806},
{"t":"2023-05-22T12:00","o":1806,"h":1825,"l":1802,"c":1816},
{"t":"2023-05-23T00:00","o":1816,"h":1845,"l":1810,"c":1840},
{"t":"2023-05-23T12:00","o":1840,"h":1870,"l":1835,"c":1855},
{"t":"2023-05-24T00:00","o":1855,"h":1860,"l":1810,"c":1815},
{"t":"2023-05-24T12:00","o":1815,"h":1820,"l":1780,"c":1799},
{"t":"2023-05-25T00:00","o":1799,"h":1805,"l":1770,"c":1785},
{"t":"2023-05-25T12:00","o":1785,"h":1810,"l":1780,"c":1800},
{"t":"2023-05-26T00:00","o":1800,"h":1815,"l":1795,"c":1810},
{"t":"2023-05-26T12:00","o":1810,"h":1835,"l":1805,"c":1829},
{"t":"2023-05-27T00:00","o":1829,"h":1835,"l":1822,"c":1826},
{"t":"2023-05-27T12:00","o":1826,"h":1834,"l":1820,"c":1830},
{"t":"2023-05-28T00:00","o":1830,"h":1855,"l":1825,"c":1850},
{"t":"2023-05-28T12:00","o":1850,"h":1915,"l":1845,"c":1910},
{"t":"2023-05-29T00:00","o":1910,"h":1925,"l":1895,"c":1900},
{"t":"2023-05-29T12:00","o":1900,"h":1908,"l":1880,"c":1893},
{"t":"2023-05-30T00:00","o":1893,"h":1915,"l":1888,"c":1906},
{"t":"2023-05-30T12:00","o":1906,"h":1912,"l":1885,"c":1902},
{"t":"2023-05-31T00:00","o":1902,"h":1905,"l":1870,"c":1875},
{"t":"2023-05-31T12:00","o":1875,"h":1882,"l":1855,"c":1872},
{"t":"2023-06-01T00:00","o":1872,"h":1880,"l":1855,"c":1860},
{"t":"2023-06-01T12:00","o":1860,"h":1870,"l":1850,"c":1862},
{"t":"2023-06-02T00:00","o":1862,"h":1880,"l":1860,"c":1875},
{"t":"2023-06-02T12:00","o":1875,"h":1910,"l":1872,"c":1907},
{"t":"2023-06-03T00:00","o":1907,"h":1915,"l":1895,"c":1900},
{"t":"2023-06-03T12:00","o":1900,"h":1905,"l":1885,"c":1893},
{"t":"2023-06-04T00:00","o":1893,"h":1905,"l":1885,"c":1898},
{"t":"2023-06-04T12:00","o":1898,"h":1902,"l":1880,"c":1890},
{"t":"2023-06-05T00:00","o":1890,"h":1895,"l":1860,"c":1865},
{"t":"2023-06-05T12:00","o":1865,"h":1870,"l":1780,"c":1811},
{"t":"2023-06-06T00:00","o":1811,"h":1825,"l":1800,"c":1815},
{"t":"2023-06-06T12:00","o":1815,"h":1885,"l":1810,"c":1878},
{"t":"2023-06-07T00:00","o":1878,"h":1885,"l":1850,"c":1855},
{"t":"2023-06-07T12:00","o":1855,"h":1860,"l":1820,"c":1830},
{"t":"2023-06-08T00:00","o":1830,"h":1845,"l":1825,"c":1840},
{"t":"2023-06-08T12:00","o":1840,"h":1860,"l":1835,"c":1849},
{"t":"2023-06-09T00:00","o":1849,"h":1855,"l":1835,"c":1842},
{"t":"2023-06-09T12:00","o":1842,"h":1850,"l":1830,"c":1839},
{"t":"2023-06-10T00:00","o":1839,"h":1845,"l":1720,"c":1750},
{"t":"2023-06-10T12:00","o":1750,"h":1765,"l":1735,"c":1752},
{"t":"2023-06-11T00:00","o":1752,"h":1770,"l":1745,"c":1760},
{"t":"2023-06-11T12:00","o":1760,"h":1765,"l":1740,"c":1752},
{"t":"2023-06-12T00:00","o":1752,"h":1760,"l":1730,"c":1738},
{"t":"2023-06-12T12:00","o":1738,"h":1748,"l":1725,"c":1742},
{"t":"2023-06-13T00:00","o":1742,"h":1765,"l":1738,"c":1750},
{"t":"2023-06-13T12:00","o":1750,"h":1758,"l":1725,"c":1740},
{"t":"2023-06-14T00:00","o":1740,"h":1760,"l":1725,"c":1735},
{"t":"2023-06-14T12:00","o":1735,"h":1740,"l":1640,"c":1652},
{"t":"2023-06-15T00:00","o":1652,"h":1660,"l":1625,"c":1640},
{"t":"2023-06-15T12:00","o":1640,"h":1670,"l":1635,"c":1666},
{"t":"2023-06-16T00:00","o":1666,"h":1675,"l":1640,"c":1662},
{"t":"2023-06-16T12:00","o":1662,"h":1730,"l":1655,"c":1716},
{"t":"2023-06-17T00:00","o":1716,"h":1760,"l":1712,"c":1740},
{"t":"2023-06-17T12:00","o":1740,"h":1745,"l":1710,"c":1727},
{"t":"2023-06-18T00:00","o":1727,"h":1745,"l":1722,"c":1735},
{"t":"2023-06-18T12:00","o":1735,"h":1740,"l":1715,"c":1719},
{"t":"2023-06-19T00:00","o":1719,"h":1725,"l":1705,"c":1722},
{"t":"2023-06-19T12:00","o":1722,"h":1745,"l":1718,"c":1737},
{"t":"2023-06-20T00:00","o":1737,"h":1745,"l":1720,"c":1740},
{"t":"2023-06-20T12:00","o":1740,"h":1800,"l":1735,"c":1790},
{"t":"2023-06-21T00:00","o":1790,"h":1830,"l":1780,"c":1825},
{"t":"2023-06-21T12:00","o":1825,"h":1900,"l":1820,"c":1891},
{"t":"2023-06-22T00:00","o":1891,"h":1900,"l":1865,"c":1870},
{"t":"2023-06-22T12:00","o":1870,"h":1885,"l":1850,"c":1875},
{"t":"2023-06-23T00:00","o":1875,"h":1885,"l":1860,"c":1880},
{"t":"2023-06-23T12:00","o":1880,"h":1910,"l":1875,"c":1894},
{"t":"2023-06-24T00:00","o":1894,"h":1900,"l":1875,"c":1880},
{"t":"2023-06-24T12:00","o":1880,"h":1886,"l":1860,"c":1874},
{"t":"2023-06-25T00:00","o":1874,"h":1900,"l":1870,"c":1895},
{"t":"2023-06-25T12:00","o":1895,"h":1930,"l":1890,"c":1903},
{"t":"2023-06-26T00:00","o":1903,"h":1910,"l":1870,"c":1878},
{"t":"2023-06-26T12:00","o":1878,"h":1885,"l":1850,"c":1859},
{"t":"2023-06-27T00:00","o":1859,"h":1875,"l":1855,"c":1870},
{"t":"2023-06-27T12:00","o":1870,"h":1905,"l":1865,"c":1889},
{"t":"2023-06-28T00:00","o":1889,"h":1890,"l":1850,"c":1855},
{"t":"2023-06-28T12:00","o":1855,"h":1860,"l":1820,"c":1829},
{"t":"2023-06-29T00:00","o":1829,"h":1850,"l":1825,"c":1845},
{"t":"2023-06-29T12:00","o":1845,"h":1870,"l":1838,"c":1851},
{"t":"2023-06-30T00:00","o":1851,"h":1860,"l":1830,"c":1845},
{"t":"2023-06-30T12:00","o":1845,"h":1950,"l":1840,"c":1934},
{"t":"2023-07-01T00:00","o":1934,"h":1940,"l":1915,"c":1920},
{"t":"2023-07-01T12:00","o":1920,"h":1930,"l":1905,"c":1924},
{"t":"2023-07-02T00:00","o":1924,"h":1935,"l":1910,"c":1922},
{"t":"2023-07-02T12:00","o":1922,"h":1955,"l":1918,"c":1936},
{"t":"2023-07-03T00:00","o":1936,"h":1960,"l":1935,"c":1952},
{"t":"2023-07-03T12:00","o":1952,"h":1975,"l":1945,"c":1955},
{"t":"2023-07-04T00:00","o":1955,"h":1965,"l":1945,"c":1950},
{"t":"2023-07-04T12:00","o":1950,"h":1955,"l":1935,"c":1937},
{"t":"2023-07-05T00:00","o":1937,"h":1940,"l":1910,"c":1915},
{"t":"2023-07-05T12:00","o":1915,"h":1920,"l":1895,"c":1910},
{"t":"2023-07-06T00:00","o":1910,"h":1960,"l":1900,"c":1935},
{"t":"2023-07-06T12:00","o":1935,"h":1940,"l":1840,"c":1850},
{"t":"2023-07-07T00:00","o":1850,"h":1858,"l":1840,"c":1852},
{"t":"2023-07-07T12:00","o":1852,"h":1875,"l":1848,"c":1870},
{"t":"2023-07-08T00:00","o":1870,"h":1875,"l":1855,"c":1860},
{"t":"2023-07-08T12:00","o":1860,"h":1868,"l":1850,"c":1864},
{"t":"2023-07-09T00:00","o":1864,"h":1880,"l":1862,"c":1872},
{"t":"2023-07-09T12:00","o":1872,"h":1876,"l":1858,"c":1861},
{"t":"2023-07-10T00:00","o":1861,"h":1865,"l":1840,"c":1850},
{"t":"2023-07-10T12:00","o":1850,"h":1890,"l":1845,"c":1879},
{"t":"2023-07-11T00:00","o":1879,"h":1890,"l":1865,"c":1872},
{"t":"2023-07-11T12:00","o":1872,"h":1885,"l":1860,"c":1880},
{"t":"2023-07-12T00:00","o":1880,"h":1900,"l":1875,"c":1890},
{"t":"2023-07-12T12:00","o":1890,"h":1895,"l":1855,"c":1871},
{"t":"2023-07-13T00:00","o":1871,"h":1880,"l":1865,"c":1875},
{"t":"2023-07-13T12:00","o":1875,"h":2025,"l":1870,"c":2006},
{"t":"2023-07-14T00:00","o":2006,"h":2030,"l":1985,"c":1995},
{"t":"2023-07-14T12:00","o":1995,"h":2000,"l":1905,"c":1936},
{"t":"2023-07-15T00:00","o":1936,"h":1945,"l":1928,"c":1940},
{"t":"2023-07-15T12:00","o":1940,"h":1943,"l":1925,"c":1933},
{"t":"2023-07-16T00:00","o":1933,"h":1940,"l":1925,"c":1930},
{"t":"2023-07-16T12:00","o":1930,"h":1935,"l":1915,"c":1918},
{"t":"2023-07-17T00:00","o":1918,"h":1920,"l":1890,"c":1895},
{"t":"2023-07-17T12:00","o":1895,"h":1915,"l":1875,"c":1911},
{"t":"2023-07-18T00:00","o":1911,"h":1915,"l":1895,"c":1905},
{"t":"2023-07-18T12:00","o":1905,"h":1910,"l":1880,"c":1898},
{"t":"2023-07-19T00:00","o":1898,"h":1920,"l":1892,"c":1905},
{"t":"2023-07-19T12:00","o":1905,"h":1910,"l":1885,"c":1892},
{"t":"2023-07-20T00:00","o":1892,"h":1920,"l":1888,"c":1905},
{"t":"2023-07-20T12:00","o":1905,"h":1910,"l":1880,"c":1891},
{"t":"2023-07-21T00:00","o":1891,"h":1900,"l":1886,"c":1893},
{"t":"2023-07-21T12:00","o":1893,"h":1898,"l":1885,"c":1890},
{"t":"2023-07-22T00:00","o":1890,"h":1895,"l":1880,"c":1885},
{"t":"2023-07-22T12:00","o":1885,"h":1888,"l":1855,"c":1863},
{"t":"2023-07-23T00:00","o":1863,"h":1875,"l":1860,"c":1870},
{"t":"2023-07-23T12:00","o":1870,"h":1895,"l":1866,"c":1890},
{"t":"2023-07-24T00:00","o":1890,"h":1890,"l":1850,"c":1855},
{"t":"2023-07-24T12:00","o":1855,"h":1862,"l":1840,"c":1857},
{"t":"2023-07-25T00:00","o":1857,"h":1865,"l":1850,"c":1858},
{"t":"2023-07-25T12:00","o":1858,"h":1862,"l":1845,"c":1856},
{"t":"2023-07-26T00:00","o":1856,"h":1862,"l":1850,"c":1858},
{"t":"2023-07-26T12:00","o":1858,"h":1885,"l":1855,"c":1872},
{"t":"2023-07-27T00:00","o":1872,"h":1885,"l":1865,"c":1870},
{"t":"2023-07-27T12:00","o":1870,"h":1875,"l":1855,"c":1861},
{"t":"2023-07-28T00:00","o":1861,"h":1868,"l":1855,"c":1862},
{"t":"2023-07-28T12:00","o":1862,"h":1880,"l":1858,"c":1874},
{"t":"2023-07-29T00:00","o":1874,"h":1882,"l":1870,"c":1878},
{"t":"2023-07-29T12:00","o":1878,"h":1885,"l":1872,"c":1880},
{"t":"2023-07-30T00:00","o":1880,"h":1885,"l":1870,"c":1875},
{"t":"2023-07-30T12:00","o":1875,"h":1878,"l":1855,"c":1862},
{"t":"2023-07-31T00:00","o":1862,"h":1875,"l":1855,"c":1865},
{"t":"2023-07-31T12:00","o":1865,"h":1870,"l":1850,"c":1856},
{"t":"2023-08-01T00:00","o":1856,"h":1860,"l":1810,"c":1825},
{"t":"2023-08-01T12:00","o":1825,"h":1870,"l":1820,"c":1839},
{"t":"2023-08-02T00:00","o":1839,"h":1875,"l":1835,"c":1860},
{"t":"2023-08-02T12:00","o":1860,"h":1865,"l":1830,"c":1839},
{"t":"2023-08-03T00:00","o":1839,"h":1845,"l":1830,"c":1838},
{"t":"2023-08-03T12:00","o":1838,"h":1842,"l":1825,"c":1835},
{"t":"2023-08-04T00:00","o":1835,"h":1845,"l":1828,"c":1838},
{"t":"2023-08-04T12:00","o":1838,"h":1842,"l":1815,"c":1825},
{"t":"2023-08-05T00:00","o":1825,"h":1832,"l":1820,"c":1828},
{"t":"2023-08-05T12:00","o":1828,"h":1835,"l":1824,"c":1830},
{"t":"2023-08-06T00:00","o":1830,"h":1835,"l":1824,"c":1828},
{"t":"2023-08-06T12:00","o":1828,"h":1832,"l":1820,"c":1826},
{"t":"2023-08-07T00:00","o":1826,"h":1832,"l":1815,"c":1820},
{"t":"2023-08-07T12:00","o":1820,"h":1835,"l":1805,"c":1826},
{"t":"2023-08-08T00:00","o":1826,"h":1835,"l":1820,"c":1830},
{"t":"2023-08-08T12:00","o":1830,"h":1865,"l":1826,"c":1856},
{"t":"2023-08-09T00:00","o":1856,"h":1870,"l":1850,"c":1860},
{"t":"2023-08-09T12:00","o":1860,"h":1865,"l":1845,"c":1853},
{"t":"2023-08-10T00:00","o":1853,"h":1860,"l":1845,"c":1850},
{"t":"2023-08-10T12:00","o":1850,"h":1856,"l":1840,"c":1849},
{"t":"2023-08-11T00:00","o":1849,"h":1855,"l":1842,"c":1845},
{"t":"2023-08-11T12:00","o":1845,"h":1852,"l":1840,"c":1848},
{"t":"2023-08-12T00:00","o":1848,"h":1852,"l":1845,"c":1850},
{"t":"2023-08-12T12:00","o":1850,"h":1855,"l":1847,"c":1852},
{"t":"2023-08-13T00:00","o":1852,"h":1855,"l":1845,"c":1849},
{"t":"2023-08-13T12:00","o":1849,"h":1852,"l":1840,"c":1846},
{"t":"2023-08-14T00:00","o":1846,"h":1860,"l":1840,"c":1852},
{"t":"2023-08-14T12:00","o":1852,"h":1856,"l":1835,"c":1843},
{"t":"2023-08-15T00:00","o":1843,"h":1850,"l":1830,"c":1835},
{"t":"2023-08-15T12:00","o":1835,"h":1838,"l":1815,"c":1824},
{"t":"2023-08-16T00:00","o":1824,"h":1830,"l":1810,"c":1815},
{"t":"2023-08-16T12:00","o":1815,"h":1820,"l":1800,"c":1806},
{"t":"2023-08-17T00:00","o":1806,"h":1810,"l":1775,"c":1785},
{"t":"2023-08-17T12:00","o":1785,"h":1790,"l":1550,"c":1681},
{"t":"2023-08-18T00:00","o":1681,"h":1700,"l":1645,"c":1670},
{"t":"2023-08-18T12:00","o":1670,"h":1690,"l":1640,"c":1662},
{"t":"2023-08-19T00:00","o":1662,"h":1672,"l":1650,"c":1665},
{"t":"2023-08-19T12:00","o":1665,"h":1695,"l":1660,"c":1683},
{"t":"2023-08-20T00:00","o":1683,"h":1690,"l":1672,"c":1678},
{"t":"2023-08-20T12:00","o":1678,"h":1690,"l":1670,"c":1686},
{"t":"2023-08-21T00:00","o":1686,"h":1690,"l":1655,"c":1662},
{"t":"2023-08-21T12:00","o":1662,"h":1672,"l":1640,"c":1667},
{"t":"2023-08-22T00:00","o":1667,"h":1670,"l":1640,"c":1645},
{"t":"2023-08-22T12:00","o":1645,"h":1650,"l":1590,"c":1634},
{"t":"2023-08-23T00:00","o":1634,"h":1645,"l":1625,"c":1640},
{"t":"2023-08-23T12:00","o":1640,"h":1690,"l":1635,"c":1676},
{"t":"2023-08-24T00:00","o":1676,"h":1680,"l":1660,"c":1665},
{"t":"2023-08-24T12:00","o":1665,"h":1670,"l":1645,"c":1651},
{"t":"2023-08-25T00:00","o":1651,"h":1660,"l":1640,"c":1648},
{"t":"2023-08-25T12:00","o":1648,"h":1655,"l":1640,"c":1646},
{"t":"2023-08-26T00:00","o":1646,"h":1650,"l":1642,"c":1645},
{"t":"2023-08-26T12:00","o":1645,"h":1648,"l":1640,"c":1643},
{"t":"2023-08-27T00:00","o":1643,"h":1650,"l":1640,"c":1648},
{"t":"2023-08-27T12:00","o":1648,"h":1660,"l":1645,"c":1657},
{"t":"2023-08-28T00:00","o":1657,"h":1660,"l":1640,"c":1645},
{"t":"2023-08-28T12:00","o":1645,"h":1656,"l":1630,"c":1652},
{"t":"2023-08-29T00:00","o":1652,"h":1660,"l":1640,"c":1655},
{"t":"2023-08-29T12:00","o":1655,"h":1745,"l":1650,"c":1729},
{"t":"2023-08-30T00:00","o":1729,"h":1730,"l":1700,"c":1712},
{"t":"2023-08-30T12:00","o":1712,"h":1718,"l":1690,"c":1706},
{"t":"2023-08-31T00:00","o":1706,"h":1720,"l":1690,"c":1700},
{"t":"2023-08-31T12:00","o":1700,"h":1705,"l":1640,"c":1647},
{"t":"2023-09-01T00:00","o":1647,"h":1655,"l":1625,"c":1640},
{"t":"2023-09-01T12:00","o":1640,"h":1645,"l":1600,"c":1628},
{"t":"2023-09-02T00:00","o":1628,"h":1638,"l":1620,"c":1632},
{"t":"2023-09-02T12:00","o":1632,"h":1640,"l":1626,"c":1634},
{"t":"2023-09-03T00:00","o":1634,"h":1640,"l":1625,"c":1632},
{"t":"2023-09-03T12:00","o":1632,"h":1645,"l":1628,"c":1638},
{"t":"2023-09-04T00:00","o":1638,"h":1640,"l":1625,"c":1630},
{"t":"2023-09-04T12:00","o":1630,"h":1636,"l":1620,"c":1631},
{"t":"2023-09-05T00:00","o":1631,"h":1636,"l":1615,"c":1625},
{"t":"2023-09-05T12:00","o":1625,"h":1645,"l":1618,"c":1636},
{"t":"2023-09-06T00:00","o":1636,"h":1648,"l":1625,"c":1630},
{"t":"2023-09-06T12:00","o":1630,"h":1668,"l":1622,"c":1634},
{"t":"2023-09-07T00:00","o":1634,"h":1640,"l":1610,"c":1620},
{"t":"2023-09-07T12:00","o":1620,"h":1660,"l":1615,"c":1645},
{"t":"2023-09-08T00:00","o":1645,"h":1655,"l":1628,"c":1635},
{"t":"2023-09-08T12:00","o":1635,"h":1645,"l":1628,"c":1638},
{"t":"2023-09-09T00:00","o":1638,"h":1642,"l":1630,"c":1636},
{"t":"2023-09-09T12:00","o":1636,"h":1640,"l":1628,"c":1634},
{"t":"2023-09-10T00:00","o":1634,"h":1638,"l":1615,"c":1625},
{"t":"2023-09-10T12:00","o":1625,"h":1628,"l":1590,"c":1602},
{"t":"2023-09-11T00:00","o":1602,"h":1612,"l":1560,"c":1585},
{"t":"2023-09-11T12:00","o":1585,"h":1600,"l":1530,"c":1548},
{"t":"2023-09-12T00:00","o":1550,"h":1624,"l":1545,"c":1610},
{"t":"2023-09-12T12:00","o":1610,"h":1619,"l":1580,"c":1590},
{"t":"2023-09-13T00:00","o":1590,"h":1612,"l":1588,"c":1600},
{"t":"2023-09-13T12:00","o":1600,"h":1638,"l":1598,"c":1625},
{"t":"2023-09-14T00:00","o":1625,"h":1640,"l":1618,"c":1628},
{"t":"2023-09-14T12:00","o":1628,"h":1646,"l":1615,"c":1640},
{"t":"2023-09-15T00:00","o":1640,"h":1643,"l":1614,"c":1625},
{"t":"2023-09-15T12:00","o":1625,"h":1655,"l":1612,"c":1645},
{"t":"2023-09-16T00:00","o":1645,"h":1646,"l":1630,"c":1640},
{"t":"2023-09-16T12:00","o":1640,"h":1641,"l":1622,"c":1628},
{"t":"2023-09-17T00:00","o":1628,"h":1636,"l":1624,"c":1630},
{"t":"2023-09-17T12:00","o":1630,"h":1638,"l":1617,"c":1625},
{"t":"2023-09-18T00:00","o":1625,"h":1670,"l":1622,"c":1660},
{"t":"2023-09-18T12:00","o":1660,"h":1667,"l":1632,"c":1645},
{"t":"2023-09-19T00:00","o":1645,"h":1660,"l":1636,"c":1640},
{"t":"2023-09-19T12:00","o":1640,"h":1660,"l":1630,"c":1650},
{"t":"2023-09-20T00:00","o":1650,"h":1654,"l":1618,"c":1628},
{"t":"2023-09-20T12:00","o":1628,"h":1630,"l":1605,"c":1612},
{"t":"2023-09-21T00:00","o":1612,"h":1624,"l":1585,"c":1592},
{"t":"2023-09-21T12:00","o":1592,"h":1594,"l":1570,"c":1582},
{"t":"2023-09-22T00:00","o":1582,"h":1598,"l":1580,"c":1590},
{"t":"2023-09-22T12:00","o":1590,"h":1598,"l":1584,"c":1592},
{"t":"2023-09-23T00:00","o":1592,"h":1597,"l":1582,"c":1590},
{"t":"2023-09-23T12:00","o":1590,"h":1597,"l":1585,"c":1592},
{"t":"2023-09-24T00:00","o":1592,"h":1597,"l":1582,"c":1586},
{"t":"2023-09-24T12:00","o":1586,"h":1603,"l":1563,"c":1572},
{"t":"2023-09-25T00:00","o":1572,"h":1590,"l":1569,"c":1585},
{"t":"2023-09-25T12:00","o":1585,"h":1597,"l":1580,"c":1592},
{"t":"2023-09-26T00:00","o":1592,"h":1598,"l":1582,"c":1590},
{"t":"2023-09-26T12:00","o":1590,"h":1597,"l":1580,"c":1594},
{"t":"2023-09-27T00:00","o":1594,"h":1632,"l":1592,"c":1620},
{"t":"2023-09-27T12:00","o":1620,"h":1628,"l":1595,"c":1605},
{"t":"2023-09-28T00:00","o":1605,"h":1638,"l":1600,"c":1630},
{"t":"2023-09-28T12:00","o":1630,"h":1670,"l":1628,"c":1660},
{"t":"2023-09-29T00:00","o":1660,"h":1689,"l":1655,"c":1672},
{"t":"2023-09-29T12:00","o":1672,"h":1678,"l":1662,"c":1668},
{"t":"2023-09-30T00:00","o":1668,"h":1676,"l":1664,"c":1670},
{"t":"2023-09-30T12:00","o":1670,"h":1690,"l":1665,"c":1675},
{"t":"2023-10-01T00:00","o":1675,"h":1696,"l":1670,"c":1690},
{"t":"2023-10-01T12:00","o":1725,"h":1756,"l":1722,"c":1740},
{"t":"2023-10-02T00:00","o":1740,"h":1745,"l":1715,"c":1730},
{"t":"2023-10-02T12:00","o":1730,"h":1733,"l":1640,"c":1665},
{"t":"2023-10-03T00:00","o":1665,"h":1668,"l":1630,"c":1650},
{"t":"2023-10-03T12:00","o":1650,"h":1658,"l":1634,"c":1645},
{"t":"2023-10-04T00:00","o":1645,"h":1661,"l":1630,"c":1650},
{"t":"2023-10-04T12:00","o":1650,"h":1656,"l":1626,"c":1640},
{"t":"2023-10-05T00:00","o":1640,"h":1655,"l":1606,"c":1620},
{"t":"2023-10-05T12:00","o":1620,"h":1655,"l":1610,"c":1640},
{"t":"2023-10-06T00:00","o":1640,"h":1668,"l":1626,"c":1650},
{"t":"2023-10-06T12:00","o":1650,"h":1652,"l":1636,"c":1642},
{"t":"2023-10-07T00:00","o":1642,"h":1649,"l":1636,"c":1640},
{"t":"2023-10-07T12:00","o":1640,"h":1647,"l":1630,"c":1635},
{"t":"2023-10-08T00:00","o":1635,"h":1644,"l":1620,"c":1630},
{"t":"2023-10-08T12:00","o":1630,"h":1641,"l":1624,"c":1632},
{"t":"2023-10-09T00:00","o":1632,"h":1638,"l":1586,"c":1595},
{"t":"2023-10-09T12:00","o":1595,"h":1600,"l":1549,"c":1575},
{"t":"2023-10-10T00:00","o":1575,"h":1597,"l":1571,"c":1580},
{"t":"2023-10-10T12:00","o":1580,"h":1590,"l":1557,"c":1570},
{"t":"2023-10-11T00:00","o":1570,"h":1580,"l":1550,"c":1562},
{"t":"2023-10-11T12:00","o":1562,"h":1578,"l":1544,"c":1560},
{"t":"2023-10-12T00:00","o":1560,"h":1568,"l":1534,"c":1548},
{"t":"2023-10-12T12:00","o":1548,"h":1552,"l":1521,"c":1537.13}
]},
"resolve":{"axis":{"x":"independent","y":"independent"}},
"layer":[
{"data":{"name":"bars"},"mark":{"type":"rule","color":"#000000","strokeWidth":2.2},
 "encoding":{
  "x":{"field":"t","type":"temporal","scale":{"nice":false,"domain":[{"year":2022,"month":10,"date":16,"hours":17,"minutes":12},{"year":2023,"month":11,"date":24,"hours":21,"minutes":12}]},
   "axis":{"orient":"bottom","offset":0,"values":[{"year":2022,"month":12,"date":1},{"year":2023,"month":1,"date":1},{"year":2023,"month":2,"date":1},{"year":2023,"month":3,"date":1},{"year":2023,"month":4,"date":1},{"year":2023,"month":5,"date":1},{"year":2023,"month":6,"date":1},{"year":2023,"month":7,"date":1},{"year":2023,"month":8,"date":1},{"year":2023,"month":9,"date":1},{"year":2023,"month":10,"date":1},{"year":2023,"month":11,"date":1}],"format":"%b-%Y","domain":false,"ticks":true,"tickSize":7,"tickColor":"#000000","tickWidth":1.5,"labelFont":"DejaVu Sans","labelFontWeight":"bold","labelFontSize":22,"labelColor":"#000000","labelBaseline":"alphabetic","labelPadding":24.7,"labelFlush":false,"labelOverlap":false,"labelBound":false,"grid":false,"title":null}},
  "y":{"field":"l","type":"quantitative","scale":{"type":"log","domain":[1044.2,2346.1],"nice":false},
   "axis":{"orient":"right","offset":0,"values":[1100,1200,1300,1400,1500,1600,1700,1800,1900,2000,2100,2200,2300],"format":".2f","domain":false,"ticks":true,"tickSize":9,"tickColor":"#000000","tickWidth":1.5,"labelFont":"DejaVu Sans","labelFontWeight":"bold","labelFontSize":22,"labelColor":"#000000","labelAlign":"left","labelBaseline":"alphabetic","labelOffset":11,"labelPadding":5,"labelFlush":false,"labelOverlap":false,"labelBound":false,"grid":false,"title":null}},
  "y2":{"field":"h"}}},
{"data":{"name":"bars"},"mark":{"type":"rule","color":"#000000","strokeWidth":1.5,"xOffset":0.5,"x2Offset":2.5},
 "encoding":{
  "x":{"field":"t","type":"temporal","scale":{"nice":false,"domain":[{"year":2022,"month":10,"date":16,"hours":17,"minutes":12},{"year":2023,"month":11,"date":24,"hours":21,"minutes":12}]},
   "axis":{"orient":"bottom","offset":7,"domain":true,"domainColor":"#000000","domainWidth":2,"ticks":false,"labels":false,"grid":false,"title":null}},
  "x2":{"field":"t"},
  "y":{"field":"c","type":"quantitative","scale":{"type":"log","domain":[1044.2,2346.1],"nice":false},
   "axis":{"orient":"right","offset":5,"values":[1050,1060,1070,1080,1090,1100,1110,1120,1130,1140,1150,1160,1170,1180,1190,1200,1210,1220,1230,1240,1250,1260,1270,1280,1290,1300,1310,1320,1330,1340,1350,1360,1370,1380,1390,1400,1410,1420,1430,1440,1450,1460,1470,1480,1490,1500,1510,1520,1530,1540,1550,1560,1570,1580,1590,1600,1610,1620,1630,1640,1650,1660,1670,1680,1690,1700,1710,1720,1730,1740,1750,1760,1770,1780,1790,1800,1810,1820,1830,1840,1850,1860,1870,1880,1890,1900,1910,1920,1930,1940,1950,1960,1970,1980,1990,2000,2010,2020,2030,2040,2050,2060,2070,2080,2090,2100,2110,2120,2130,2140,2150,2160,2170,2180,2190,2200,2210,2220,2230,2240,2250,2260,2270,2280,2290,2300,2310,2320,2330,2340],"domain":false,"ticks":true,"tickSize":4,"tickColor":"#000000","tickWidth":1.2,"labels":false,"grid":false,"title":null}}}},
{"data":{"name":"bars"},"mark":{"type":"rule","color":"#000000","strokeWidth":1.5,"xOffset":-2.5,"x2Offset":-0.5},
 "encoding":{
  "x":{"field":"t","type":"temporal","scale":{"nice":false,"domain":[{"year":2022,"month":10,"date":16,"hours":17,"minutes":12},{"year":2023,"month":11,"date":24,"hours":21,"minutes":12}]},
   "axis":{"orient":"bottom","offset":0,"domain":true,"domainColor":"#a8a8a8","domainWidth":1.5,"ticks":false,"labels":false,"grid":false,"title":null}},
  "x2":{"field":"t"},
  "y":{"field":"o","type":"quantitative","scale":{"type":"log","domain":[1044.2,2346.1],"nice":false},
   "axis":{"orient":"right","offset":9,"domain":true,"domainColor":"#000000","domainWidth":2,"ticks":false,"labels":false,"grid":false,"title":null}}}},
{"data":{"values":[{"a":"2023-04-20T00:00","b":"2023-11-18T02:00","p":1563.88}]},"mark":{"type":"rule","color":"#111111","strokeWidth":1.5},
 "encoding":{
  "x":{"field":"a","type":"temporal","scale":{"nice":false,"domain":[{"year":2022,"month":10,"date":16,"hours":17,"minutes":12},{"year":2023,"month":11,"date":24,"hours":21,"minutes":12}]},"axis":null},
  "x2":{"field":"b"},
  "y":{"field":"p","type":"quantitative","scale":{"type":"log","domain":[1044.2,2346.1],"nice":false},
   "axis":{"orient":"right","offset":0,"domain":true,"domainColor":"#a8a8a8","domainWidth":1.5,"ticks":false,"labels":false,"grid":false,"title":null}}}},
{"data":{"values":[{"a":"2023-09-10T08:00","b":"2023-10-03T03:36","lo":1520.4,"hi":1759.8}]},"mark":{"type":"rect","fill":"#00dcea","fillOpacity":0.24,"stroke":"#5f9ea8","strokeOpacity":0.7,"strokeWidth":1.5},
 "encoding":{
  "x":{"field":"a","type":"temporal","scale":{"nice":false,"domain":[{"year":2022,"month":10,"date":16,"hours":17,"minutes":12},{"year":2023,"month":11,"date":24,"hours":21,"minutes":12}]},"axis":null},
  "x2":{"field":"b"},
  "y":{"field":"lo","type":"quantitative","scale":{"type":"log","domain":[1044.2,2346.1],"nice":false},"axis":null},
  "y2":{"field":"hi"}}},
{"data":{"values":[{"p":1563.88}]},"mark":{"type":"point","shape":"M-1,0L-0.92,-0.198L1,-0.198L1,0.198L-0.92,0.198Z","size":12321,"filled":true,"color":"#2f5d8c","opacity":1,"strokeWidth":0,"yOffset":-4.7},
 "encoding":{
  "x":{"datum":{"year":2023,"month":12,"date":4,"hours":11,"minutes":17},"type":"temporal","scale":{"nice":false,"domain":[{"year":2022,"month":10,"date":16,"hours":17,"minutes":12},{"year":2023,"month":11,"date":24,"hours":21,"minutes":12}]},"axis":null},
  "y":{"field":"p","type":"quantitative","scale":{"type":"log","domain":[1044.2,2346.1],"nice":false},"axis":null}}},
{"data":{"values":[{"p":1563.88,"s":"1563.88"}]},"mark":{"type":"text","align":"right","baseline":"alphabetic","font":"DejaVu Sans","fontSize":21.5,"color":"#ffffff","yOffset":6.5},
 "encoding":{
  "x":{"datum":{"year":2023,"month":12,"date":12,"hours":17,"minutes":17},"type":"temporal","scale":{"nice":false,"domain":[{"year":2022,"month":10,"date":16,"hours":17,"minutes":12},{"year":2023,"month":11,"date":24,"hours":21,"minutes":12}]},"axis":null},
  "y":{"field":"p","type":"quantitative","scale":{"type":"log","domain":[1044.2,2346.1],"nice":false},"axis":null},
  "text":{"field":"s"}}},
{"data":{"values":[{"p":1520.85}]},"mark":{"type":"point","shape":"M-1,0L-0.92,-0.198L1,-0.198L1,0.198L-0.92,0.198Z","size":12321,"filled":true,"color":"#a83232","opacity":1,"strokeWidth":0,"yOffset":1.8},
 "encoding":{
  "x":{"datum":{"year":2023,"month":12,"date":4,"hours":11,"minutes":17},"type":"temporal","scale":{"nice":false,"domain":[{"year":2022,"month":10,"date":16,"hours":17,"minutes":12},{"year":2023,"month":11,"date":24,"hours":21,"minutes":12}]},"axis":null},
  "y":{"field":"p","type":"quantitative","scale":{"type":"log","domain":[1044.2,2346.1],"nice":false},"axis":null}}},
{"data":{"values":[{"p":1520.85,"s":"1520.85"}]},"mark":{"type":"text","align":"right","baseline":"alphabetic","font":"DejaVu Sans","fontSize":21.5,"color":"#ffffff","yOffset":10.8},
 "encoding":{
  "x":{"datum":{"year":2023,"month":12,"date":12,"hours":17,"minutes":17},"type":"temporal","scale":{"nice":false,"domain":[{"year":2022,"month":10,"date":16,"hours":17,"minutes":12},{"year":2023,"month":11,"date":24,"hours":21,"minutes":12}]},"axis":null},
  "y":{"field":"p","type":"quantitative","scale":{"type":"log","domain":[1044.2,2346.1],"nice":false},"axis":null},
  "text":{"field":"s"}}},
{"data":{"values":[{"p":1537.13}]},"mark":{"type":"point","shape":"M-1,0L-0.92,-0.216L1,-0.216L1,0.216L-0.92,0.216Z","size":12321,"filled":true,"color":"#ffffff","opacity":1,"stroke":"#000000","strokeWidth":1},
 "encoding":{
  "x":{"datum":{"year":2023,"month":12,"date":4,"hours":11,"minutes":17},"type":"temporal","scale":{"nice":false,"domain":[{"year":2022,"month":10,"date":16,"hours":17,"minutes":12},{"year":2023,"month":11,"date":24,"hours":21,"minutes":12}]},"axis":null},
  "y":{"field":"p","type":"quantitative","scale":{"type":"log","domain":[1044.2,2346.1],"nice":false},"axis":null}}},
{"data":{"values":[{"p":1537.13,"s":"1537.13"}]},"mark":{"type":"text","align":"right","baseline":"alphabetic","font":"DejaVu Sans","fontSize":21.5,"color":"#000000","yOffset":10.3},
 "encoding":{
  "x":{"datum":{"year":2023,"month":12,"date":12,"hours":17,"minutes":17},"type":"temporal","scale":{"nice":false,"domain":[{"year":2022,"month":10,"date":16,"hours":17,"minutes":12},{"year":2023,"month":11,"date":24,"hours":21,"minutes":12}]},"axis":null},
  "y":{"field":"p","type":"quantitative","scale":{"type":"log","domain":[1044.2,2346.1],"nice":false},"axis":null},
  "text":{"field":"s"}}},
{"data":{"values":[{"s":"ETH/USD (1) - 12 hour"}]},"mark":{"type":"point","shape":"circle","size":254,"filled":true,"color":"#4a80d8","opacity":1},
 "encoding":{
  "x":{"datum":{"year":2022,"month":10,"date":19,"hours":15,"minutes":12},"type":"temporal","scale":{"nice":false,"domain":[{"year":2022,"month":10,"date":16,"hours":17,"minutes":12},{"year":2023,"month":11,"date":24,"hours":21,"minutes":12}]},"axis":null},
  "y":{"datum":2311,"type":"quantitative","scale":{"type":"log","domain":[1044.2,2346.1],"nice":false},"axis":null}}},
{"data":{"values":[{"s":"ETH/USD (1) - 12 hour"}]},"mark":{"type":"text","align":"left","baseline":"alphabetic","font":"DejaVu Sans","fontWeight":"bold","fontSize":23.5,"color":"#222222"},
 "encoding":{
  "x":{"datum":{"year":2022,"month":10,"date":22,"hours":17,"minutes":12},"type":"temporal","scale":{"nice":false,"domain":[{"year":2022,"month":10,"date":16,"hours":17,"minutes":12},{"year":2023,"month":11,"date":24,"hours":21,"minutes":12}]},"axis":null},
  "y":{"datum":2289.6,"type":"quantitative","scale":{"type":"log","domain":[1044.2,2346.1],"nice":false},"axis":null},
  "text":{"field":"s"}}},
{"data":{"values":[{"s":"motivewave.com"}]},"mark":{"type":"text","align":"left","baseline":"alphabetic","font":"Liberation Sans","fontSize":18,"color":"#333333"},
 "encoding":{
  "x":{"datum":{"year":2022,"month":10,"date":17,"hours":1,"minutes":12},"type":"temporal","scale":{"nice":false,"domain":[{"year":2022,"month":10,"date":16,"hours":17,"minutes":12},{"year":2023,"month":11,"date":24,"hours":21,"minutes":12}]},"axis":null},
  "y":{"datum":1050.9,"type":"quantitative","scale":{"type":"log","domain":[1044.2,2346.1],"nice":false},"axis":null},
  "text":{"field":"s"}}},
{"data":{"values":[{"s":"© ElliottWaveCafé Oct 12 2023"}]},"mark":{"type":"text","align":"right","baseline":"alphabetic","font":"DejaVu Sans","fontWeight":"bold","fontSize":22.5,"color":"#000000"},
 "encoding":{
  "x":{"datum":{"year":2023,"month":11,"date":23,"hours":9,"minutes":7},"type":"temporal","scale":{"nice":false,"domain":[{"year":2022,"month":10,"date":16,"hours":17,"minutes":12},{"year":2023,"month":11,"date":24,"hours":21,"minutes":12}]},"axis":null},
  "y":{"datum":1047.4,"type":"quantitative","scale":{"type":"log","domain":[1044.2,2346.1],"nice":false},"axis":null},
  "text":{"field":"s"}}}
]
}
